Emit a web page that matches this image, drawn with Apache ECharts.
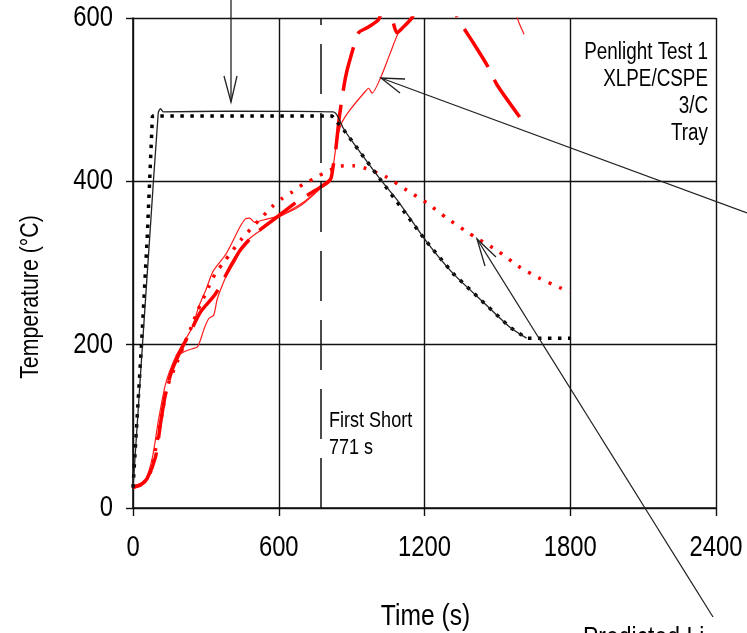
<!DOCTYPE html>
<html>
<head>
<meta charset="utf-8">
<script src="https://cdn.jsdelivr.net/npm/echarts@6.0.0/dist/echarts.min.js"></script>
<style>
	html, body { margin: 0; padding: 0; background: #fff; }
	#chart { width: 747px; height: 633px; }
</style>
</head>
<body>
<div id="chart"></div>
<script>
var FONT = "'Liberation Sans', Arial, sans-serif";
// the source uses a narrow face, squeeze the text horizontally
var NARROW = 0.82;

var xTicks = [0, 600, 1200, 1800, 2400];
var yTicks = [0, 200, 400, 600];
var firstShort = 771;

// black curves (time s, temperature C)
var blackSolid = [[0, 24], [39, 200], [68, 328], [104, 484], [113, 489], [125, 485], [400, 486], [825, 485], [840, 481], [866, 465],
	[907, 447], [1019, 402], [1088, 377], [1206, 327], [1318, 287], [1442, 252], [1553, 221], [1620, 208]];
var blackDots = [[0, 25], [35, 200], [58, 328], [80, 480], [820, 480], [870, 462], [907, 447], [1019, 402], [1206, 327],
	[1318, 287], [1442, 252], [1553, 221], [1620, 208], [1800, 208]];

// red curves
var redThinA = [[0, 27], [50, 34], [80, 62], [105, 108], [135, 153], [175, 185], [215, 206], [245, 222], [270, 246], [300, 267],
	[330, 290], [385, 312], [440, 344], [463, 354], [480, 355], [500, 350], [540, 353], [607, 358], [689, 370], [775, 392],
	[812, 400], [840, 451], [860, 472], [895, 488], [956, 510], [970, 514], [984, 508], [1018, 526], [1059, 557], [1093, 582],
	[1141, 600], [1160, 615], [1560, 640], [1581, 601], [1610, 580]];
var redThinB = [[175, 185], [215, 192], [243, 195], [264, 197], [278, 206], [291, 218], [312, 232], [332, 236], [346, 255],
	[360, 267], [390, 288], [422, 303], [449, 320], [480, 330], [540, 343], [600, 356], [700, 374], [775, 392], [812, 400]];
var redDashed = [[0, 26], [30, 28], [58, 36], [93, 63], [113, 103], [134, 140], [161, 169], [200, 195], [240, 218], [278, 240],
	[339, 262], [400, 295], [442, 316], [504, 336], [600, 358], [675, 375], [751, 389], [812, 402], [822, 415], [835, 440],
	[850, 480], [874, 526], [895, 551], [929, 582], [963, 588], [1011, 598], [1030, 612], [1050, 612], [1066, 600], [1087, 582],
	[1110, 588], [1148, 600], [1170, 615], [1300, 630], [1335, 601], [1400, 570], [1458, 542], [1499, 518], [1606, 473]];
var redDots = [[0, 25], [40, 30], [72, 44], [100, 83], [120, 116], [141, 148], [182, 179], [243, 224], [264, 240], [312, 271],
	[339, 287], [374, 301], [449, 330], [573, 369], [614, 379], [655, 387], [703, 397], [744, 403], [785, 410], [830, 416],
	[867, 419], [907, 419], [956, 416], [1039, 406], [1128, 389], [1207, 374], [1292, 355], [1375, 338], [1418, 330],
	[1505, 314], [1587, 296], [1669, 282], [1756, 270], [1800, 265]];

var infoLines = ['Penlight Test 1', 'XLPE/CSPE', '3/C', 'Tray'];
var shortLines = ['First Short', firstShort + ' s'];

var myChart = echarts.init(document.getElementById('chart'));

function curve(data, color, width, type, smooth) {
	return {
		type: 'line',
		data: data,
		showSymbol: false,
		symbol: 'none',
		smooth: smooth,
		clip: true,
		silent: true,
		lineStyle: { color: color, width: width, type: type, cap: 'butt' }
	};
}

function arrow(pts) {
	return {
		type: 'polyline',
		shape: { points: pts },
		style: { stroke: '#222', lineWidth: 1.3, fill: null },
		z: 100
	};
}

function label(text, x, y, size, align) {
	return {
		type: 'text',
		x: x,
		y: y,
		scaleX: NARROW,
		style: { text: text, font: size + 'px ' + FONT, fill: '#000', align: align, verticalAlign: 'middle' },
		z: 100
	};
}

var axisLine = { show: true, onZero: false, lineStyle: { color: '#111', width: 1.6 } };
var gridLine = { show: true, lineStyle: { color: '#111', width: 1.4 } };

var option = {
	animation: false,
	backgroundColor: '#fff',
	grid: { left: 133, right: 31, top: 18, bottom: 125, containLabel: false, outerBoundsMode: 'none' },
	xAxis: {
		type: 'value',
		min: xTicks[0],
		max: xTicks[xTicks.length - 1],
		interval: xTicks[1] - xTicks[0],
		axisLine: axisLine,
		axisTick: { show: true, inside: false, length: 8, lineStyle: { color: '#111', width: 1.4 } },
		axisLabel: { show: false },
		splitLine: gridLine
	},
	yAxis: {
		type: 'value',
		min: yTicks[0],
		max: yTicks[yTicks.length - 1],
		interval: yTicks[1] - yTicks[0],
		axisLine: axisLine,
		axisTick: { show: true, inside: false, length: 7, lineStyle: { color: '#111', width: 1.4 } },
		axisLabel: { show: false },
		splitLine: gridLine
	},
	series: [
		curve(redThinB, '#ff1a1a', 1.2, 'solid', 0.25),
		curve(redThinA, '#ff1a1a', 1.2, 'solid', 0.25),
		curve(redDashed, '#ff0000', 3.5, [45, 14], 0.25),
		curve(redDots, '#ff0000', 3.5, [3, 8.5], 0.25),
		curve(blackDots, '#000', 3.5, [3.5, 6.5], false),
		(function () {
			var s = curve(blackSolid, '#222', 1.3, 'solid', 0.2);
			s.markLine = {
				silent: true,
				symbol: 'none',
				label: { show: false },
				lineStyle: { color: '#111', width: 1.5, type: [50, 19] },
				data: [[{ coord: [firstShort, yTicks[0]] }, { coord: [firstShort, yTicks[yTicks.length - 1]] }]]
			};
			return s;
		})()
	]
};

myChart.setOption(option);

// tick labels and annotations, placed from the axes
var graphics = [];
xTicks.forEach(function (v) {
	var p = myChart.convertToPixel({ gridIndex: 0 }, [v, yTicks[0]]);
	graphics.push(label(String(v), p[0], p[1] + 40, 29, 'center'));
});
yTicks.forEach(function (v) {
	var p = myChart.convertToPixel({ gridIndex: 0 }, [xTicks[0], v]);
	graphics.push(label(String(v), p[0] - 20, p[1], 29, 'right'));
});
for (var i = 0; i < infoLines.length; i++) {
	graphics.push(label(infoLines[i], 708, 52.5 + i * 27, 23, 'right'));
}
for (var j = 0; j < shortLines.length; j++) {
	graphics.push(label(shortLines[j], 329, 420.5 + j * 27.5, 22, 'left'));
}
graphics.push(label('Time (s)', 425.5, 616.5, 30, 'center'));
graphics.push(label('Predicted Li', 583, 638, 28, 'left'));
var yName = label('Temperature (°C)', 31, 297, 26, 'center');
yName.rotation = Math.PI / 2;
graphics.push(yName);

graphics.push(arrow([[231, 0], [231, 102]]));
graphics.push(arrow([[224, 76], [231, 102], [237, 76]]));
graphics.push(arrow([[747, 213], [381, 78]]));
graphics.push(arrow([[405, 79], [381, 78], [400, 93]]));
graphics.push(arrow([[713, 617], [477, 239]]));
graphics.push(arrow([[496, 257], [477, 239], [485, 266]]));

myChart.setOption({ graphic: graphics });
</script>
</body>
</html>
